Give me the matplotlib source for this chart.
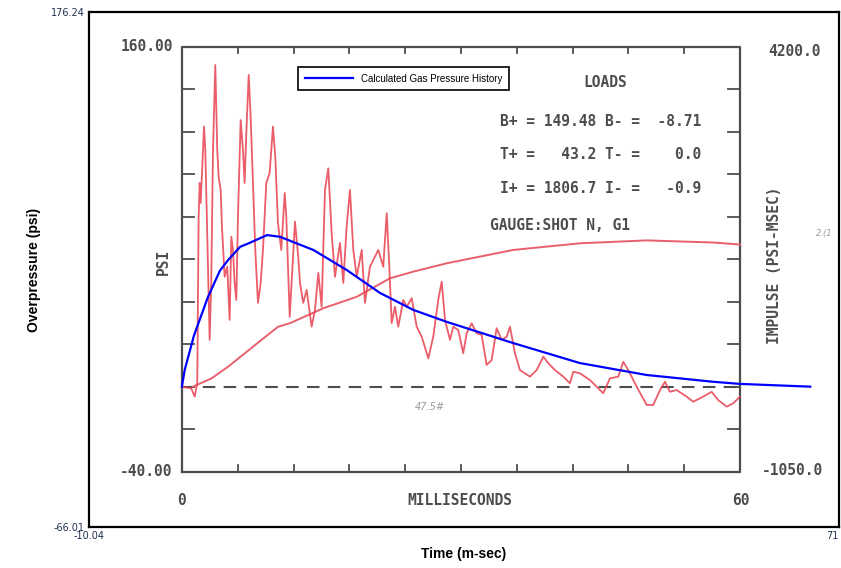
import numpy as np
import matplotlib.pyplot as plt

# outer (Excel style) axis limits
x_lim = [-10.04, 71]
y_lim = [-66.01, 176.24]

# calculated gas pressure history (blue)
calc_t = [0, 0.3, 1.3, 2.8, 4.1, 5.0, 6.3, 7.2, 9.2, 10.6, 14.2, 17.8, 21.4,
          25.0, 28.6, 35.8, 43.0, 50.2, 57.4, 60.3, 67.9]
calc_p = [0, 7.8, 24.0, 42.0, 54.5, 59.6, 65.8, 67.4, 71.3, 70.5, 64.3, 54.9,
          44.1, 36.1, 30.5, 20.5, 11.1, 5.5, 2.3, 1.3, 0.0]

meas_t = [0, 1.01, 1.38, 1.66, 1.81, 1.92, 2.03, 2.39, 2.53, 2.74, 3.00, 3.17,
          3.36, 3.61, 3.82, 3.97, 4.19, 4.33, 4.62, 4.90, 5.16, 5.34, 5.52,
          5.70, 5.88, 6.06, 6.35, 6.60, 6.78, 6.96, 7.22, 7.43, 7.68, 7.93,
          8.22, 8.51, 8.76, 9.12, 9.48, 9.84, 10.09, 10.38, 10.74, 11.11,
          11.28, 11.65, 12.22, 12.57, 12.76, 13.11, 13.48, 14.02, 14.38,
          14.74, 15.10, 15.46, 15.82, 16.18, 16.54, 17.08, 17.44, 17.80,
          18.16, 18.52, 18.89, 19.43, 19.78, 20.32, 20.86, 21.22, 21.76,
          22.13, 22.41, 22.67, 23.02, 23.38, 23.92, 24.29, 24.83, 25.37,
          25.91, 26.63, 27.16, 27.70, 28.07, 28.43, 28.97, 29.32, 29.86,
          30.40, 30.77, 31.31, 31.85, 32.39, 32.93, 33.47, 34.01, 34.55,
          35.09, 35.45, 35.99, 36.53, 37.61, 38.33, 39.05, 39.59, 40.31,
          41.21, 41.93, 42.29, 43.01, 44.09, 45.17, 45.53, 46.25, 47.15,
          47.69, 48.23, 49.14, 50.22, 50.93, 51.66, 52.20, 52.73, 53.46,
          54.54, 55.25, 56.33, 57.24, 57.95, 58.86, 59.58, 60.30]
meas_p = [0, -0.8, -4.7, 1.7, 80.0, 95.8, 86.4, 122.3, 111.3, 72.3, 22.0, 48.8,
          111.3, 151.3, 111.3, 98.8, 92.5, 75.2, 51.7, 56.4, 31.4, 70.5, 64.3,
          48.8, 40.8, 80.0, 125.4, 111.3, 95.8, 119.3, 146.6, 127.0, 95.8,
          64.3, 39.4, 48.8, 64.3, 95.8, 100.5, 122.3, 108.2, 77.0, 64.3, 91.1,
          80.0, 32.9, 77.6, 61.1, 48.8, 39.4, 45.5, 28.2, 36.1, 53.5, 37.6,
          92.5, 102.7, 72.3, 51.7, 67.6, 48.8, 75.2, 92.5, 64.3, 51.7, 64.3,
          39.4, 56.4, 61.1, 64.3, 56.4, 81.6, 56.4, 29.9, 37.6, 28.2, 40.8,
          37.6, 41.6, 28.2, 23.5, 13.3, 23.5, 40.8, 49.4, 31.4, 22.0, 28.2,
          26.7, 15.7, 25.1, 29.8, 25.1, 24.3, 10.2, 12.5, 27.5, 22.0, 23.5,
          28.2, 15.7, 7.8, 4.7, 7.8, 14.1, 11.0, 7.8, 4.7, 1.6, 7.0, 6.3, 3.1,
          -1.6, -3.1, 3.9, 4.7, 11.7, 7.8, 0.0, -8.6, -8.6, -1.6, 2.3, -2.4,
          -1.6, -4.7, -7.1, -4.7, -2.4, -6.3, -9.4, -7.8, -4.7]

# cumulative impulse (psi-msec)
imp_t = [1.2, 3.2, 5.0, 6.8, 8.6, 10.4, 11.7, 15.3, 18.9, 22.5, 25.0, 28.6,
         35.8, 43.0, 50.2, 57.4, 60.3]
imp_v = [0, 102, 247, 412, 578, 740, 785, 969, 1110, 1339, 1420, 1523, 1688,
         1770, 1806, 1780, 1755]

# scanned record scales
t_end = 60
psi_lo, psi_hi = -40, 160
imp_lo, imp_hi = -1050, 4200
scan_sx = 60.3 / 60  # the scan is stretched a bit against the outer axis

def imp_to_psi(v):
    return psi_lo + (np.asarray(v) - imp_lo) / (imp_hi - imp_lo) * (psi_hi - psi_lo)

def sx(t):
    return np.asarray(t, dtype=float) * scan_sx

fig = plt.figure(figsize=(8.41, 5.68), dpi=100)
ax = fig.add_axes([0.1058, 0.0722, 0.8918, 0.9067])
ax.set_xlim(x_lim)
ax.set_ylim(y_lim)

scan = '#4d4d4d'
mono = 'DejaVu Sans Mono'
te = sx(t_end)

# scanned chart frame and ticks
ax.plot([0, te, te, 0, 0], [psi_lo, psi_lo, psi_hi, psi_hi, psi_lo],
        color=scan, lw=1.6)
for v in range(-20, psi_hi, 20):
    ax.plot([0, 1.3], [v, v], color=scan, lw=1.3)
    ax.plot([te - 1.3, te], [v, v], color=scan, lw=1.3)
for t in range(6, t_end, 6):
    ax.plot(sx([t, t]), [psi_hi, psi_hi - 3.2], color=scan, lw=1.3)
    ax.plot(sx([t, t]), [psi_lo, psi_lo + 3.2], color=scan, lw=1.3)
ax.plot([0, te], [0, 0], color=scan, lw=1.5, dashes=(6, 4))

# traces
ax.plot(imp_t, imp_to_psi(imp_v), color='#e8606c', lw=1.4)
ax.plot(meas_t, meas_p, color='#e8404f', lw=1.3, alpha=0.85)
ax.plot(calc_t, calc_p, color='#0000ff', lw=1.6,
        label='Calculated Gas Pressure History')

# scanned text
tk = dict(color=scan, family=mono, fontsize=10.5, fontweight='bold')
ax.text(-1.0, 160, '160.00', ha='right', va='center', **tk)
ax.text(-1.0, -40, '-40.00', ha='right', va='center', **tk)
ax.text(0, -53.5, '0', ha='center', va='center', **tk)
ax.text(30, -53.5, 'MILLISECONDS', ha='center', va='center', **tk)
ax.text(60.4, -53.5, '60', ha='center', va='center', **tk)
ax.text(66.2, 157.5, '4200.0', ha='center', va='center', **tk)
ax.text(66.0, -39.5, '-1050.0', ha='center', va='center', **tk)
ax.text(-2.0, 58.5, 'PSI', ha='center', va='center', rotation=90, **tk)
ax.text(64.0, 57, 'IMPULSE (PSI-MSEC)', ha='center', va='center',
        rotation=90, **tk)
ax.text(45.7, 143, 'LOADS', ha='center', va='center', **tk)
loads = ['B+ = 149.48 B- =  -8.71',
         'T+ =   43.2 T- =    0.0',
         'I+ = 1806.7 I- =   -0.9']
for line, y in zip(loads, [124.5, 109.0, 93.0]):
    ax.text(34.4, y, line, ha='left', va='center', **tk)
ax.text(33.3, 75.6, 'GAUGE:SHOT N, G1', ha='left', va='center', **tk)
ax.text(26.8, -9.5, '47.5#', ha='center', va='center', color='#9a9a9a',
        fontsize=7, style='italic')
ax.text(69.4, 72, '2.(1', ha='center', va='center', color='#9a9a9a',
        fontsize=6, style='italic')

# outer axes
ax.set_xticks(x_lim)
ax.set_xticklabels(['-10.04', '71'])
ax.get_xticklabels()[1].set_horizontalalignment('right')
ax.set_yticks(y_lim)
ax.set_yticklabels(['-66.01', '176.24'])
ax.tick_params(length=0, labelsize=7, labelcolor='#203050', pad=3)
for s in ax.spines.values():
    s.set_linewidth(1.6)
ax.set_xlabel('Time (m-sec)', fontsize=10, fontweight='bold',
              family='Liberation Sans', labelpad=4)
ax.set_ylabel('Overpressure (psi)', fontsize=10, fontweight='bold',
              family='Liberation Sans', labelpad=7)

leg = ax.legend(loc='upper left', bbox_to_anchor=(0.272, 0.903),
                fancybox=False, edgecolor='black', framealpha=1,
                handlelength=5, borderpad=0.7,
                prop={'family': 'Liberation Sans', 'size': 7})
leg.get_frame().set_linewidth(1.2)

fig.savefig('out.png', dpi=100)
